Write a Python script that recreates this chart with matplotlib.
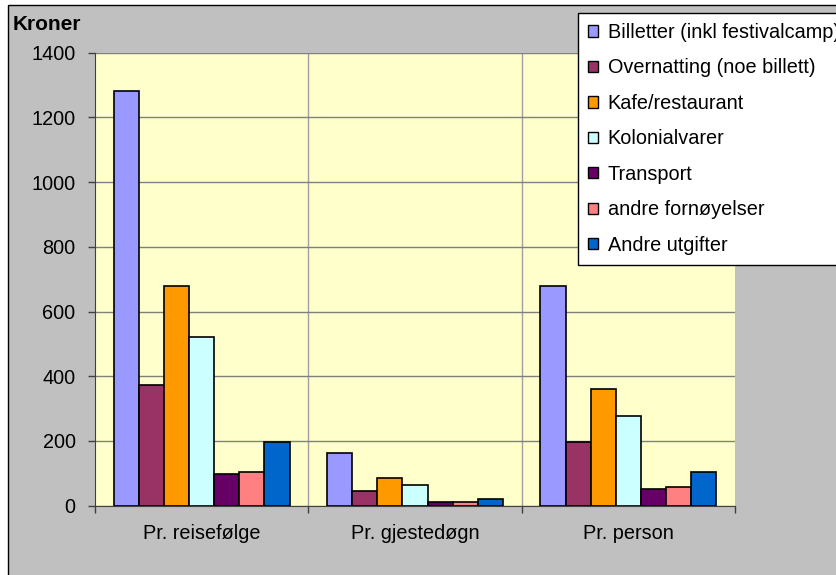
import matplotlib
matplotlib.use("Agg")
import matplotlib.pyplot as plt
from matplotlib.patches import Rectangle
import numpy as np

plt.rcParams['font.family'] = ['Liberation Sans', 'DejaVu Sans']

categories = ["Pr. reisefølge", "Pr. gjestedøgn", "Pr. person"]
series_names = ["Billetter (inkl festivalcamp)", "Overnatting (noe billett)", "Kafe/restaurant",
                "Kolonialvarer", "Transport", "andre fornøyelser", "Andre utgifter"]
values = [
    [1282, 162, 680],
    [372, 46, 198],
    [680, 87, 360],
    [522, 63, 278],
    [99, 11, 52],
    [105, 10, 58],
    [198, 22, 104],
]
colors = ["#9999FF", "#993366", "#FF9900", "#CCFFFF", "#660066", "#FF8080", "#0066CC"]
yticks = [0, 200, 400, 600, 800, 1000, 1200, 1400]

FS = 14.3
W, H = 836, 575
fig = plt.figure(figsize=(W / 100, H / 100), dpi=100)
fig.patch.set_facecolor("white")
fig.patches.append(Rectangle((8 / W, -0.1), 1.2, 1 - 5 / H + 0.1, transform=fig.transFigure,
                             facecolor="#C0C0C0", edgecolor="black", linewidth=1.0, zorder=-10))

ax = fig.add_axes([95 / W, 1 - 505.7 / H, 640 / W, 453 / H])
ax.set_facecolor("#FFFFCC")

n = len(series_names)
gap = 1.5
bw = 1.0 / (n + gap)
x = np.arange(len(categories))
for i, (name, vals, c) in enumerate(zip(series_names, values, colors)):
    offs = -0.5 + gap * bw / 2 + (i + 0.5) * bw
    ax.bar(x + offs, vals, width=bw, color=c, edgecolor="black", linewidth=1.2, label=name, zorder=3)

ax.set_xlim(-0.5, len(categories) - 0.5)
ax.set_ylim(0, 1400)
ax.set_yticks(yticks)
ax.set_yticklabels([str(v) for v in yticks], fontsize=FS)
ax.yaxis.grid(True, color="#808080", linewidth=1.0, zorder=0)

ax.set_xticks(np.arange(len(categories) + 1) - 0.5)
ax.set_xticklabels([])
ax.set_xticks(x, minor=True)
ax.set_xticklabels(categories, minor=True, fontsize=FS)
ax.tick_params(axis="x", which="minor", length=0, pad=13)
ax.tick_params(axis="x", which="major", length=5, color="#404040", width=1)
ax.tick_params(axis="y", length=5, color="#404040", width=1, pad=9)
for xv in np.arange(1, len(categories)) - 0.5:
    ax.axvline(xv, color="#A0A0A0", linewidth=1.0, zorder=0)

for s in ["top", "right"]:
    ax.spines[s].set_visible(False)
ax.spines["left"].set_color("#404040")
ax.spines["bottom"].set_color("#404040")

fig.text(13 / W, 1 - 25 / H, "Kroner", fontsize=FS + 0.7, fontweight="bold", va="center", ha="left")

leg = fig.legend(loc="upper left", bbox_to_anchor=(578 / W, 1 - 13 / H), bbox_transform=fig.transFigure,
                 fontsize=FS, frameon=True, fancybox=False, edgecolor="black", facecolor="white",
                 framealpha=1, handlelength=0.5, handleheight=0.5, handletextpad=0.5,
                 labelspacing=0.83, borderpad=0.5, borderaxespad=0)
leg.get_frame().set_linewidth(1.0)
for h in leg.legend_handles:
    h.set_linewidth(1.0)

fig.savefig("out.png", dpi=100)
